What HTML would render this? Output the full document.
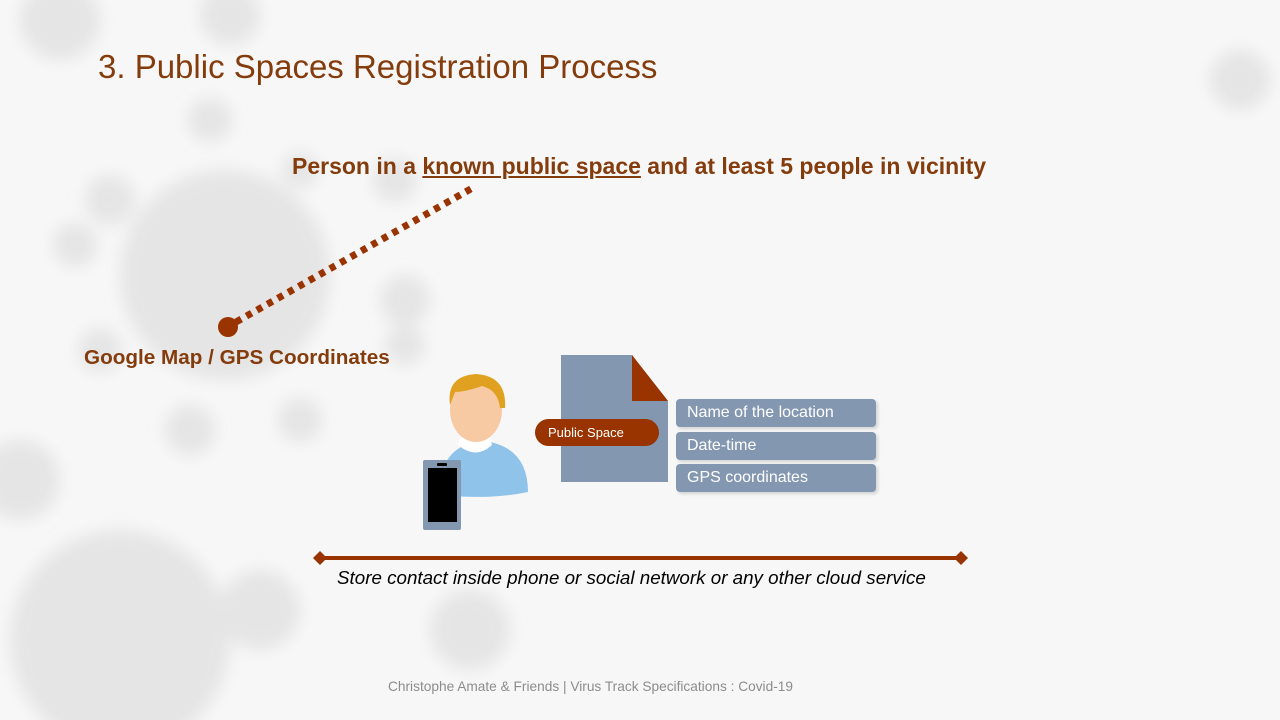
<!DOCTYPE html>
<html><head><meta charset="utf-8"><style>
body{margin:0}
#s{position:relative;width:1280px;height:720px;overflow:hidden;background:#f7f7f7;font-family:"Liberation Sans",sans-serif}
.t{position:absolute;white-space:nowrap}
.box{position:absolute;left:676px;width:200px;height:28px;background:#8497b0;border-radius:4px;color:#fff;font-size:16px;line-height:28px;padding-left:11px;box-sizing:border-box;box-shadow:2px 2px 3px rgba(0,0,0,.15)}
</style></head><body>
<div id="s">
<svg width="1280" height="720" style="position:absolute;left:0;top:0">
<defs><filter id="b"><feGaussianBlur stdDeviation="8"/></filter></defs>
<g fill="#e2e2e2" filter="url(#b)" opacity=".85">
<circle cx="225" cy="275" r="105"/>
<circle cx="210" cy="120" r="22"/><circle cx="110" cy="200" r="25"/><circle cx="75" cy="245" r="22"/>
<circle cx="395" cy="180" r="22"/><circle cx="405" cy="300" r="25"/><circle cx="405" cy="345" r="20"/>
<circle cx="190" cy="430" r="25"/><circle cx="300" cy="420" r="22"/><circle cx="100" cy="350" r="22"/>
<circle cx="300" cy="170" r="18"/>
<circle cx="120" cy="640" r="110"/><circle cx="260" cy="610" r="40"/><circle cx="20" cy="480" r="40"/>
<circle cx="60" cy="20" r="40"/><circle cx="230" cy="15" r="30"/>
<circle cx="470" cy="630" r="40"/><circle cx="1240" cy="80" r="30"/>
</g>
</svg>
<div class="t" style="left:98px;top:48px;font-size:33px;color:#843c0c">3. Public Spaces Registration Process</div>
<div class="t" style="left:292px;top:153px;font-size:23px;font-weight:bold;color:#843c0c">Person in a <u>known public space</u> and at least 5 people in vicinity</div>
<svg width="1280" height="720" style="position:absolute;left:0;top:0">
<line x1="236" y1="322" x2="476" y2="186" stroke="#993300" stroke-width="7" stroke-dasharray="6 6"/>
<circle cx="228" cy="327" r="10" fill="#993300"/>
<line x1="322" y1="558" x2="960" y2="558" stroke="#993300" stroke-width="4"/>
<path d="M313 558l7-7 7 7-7 7z M954 558l7-7 7 7-7 7z" fill="#993300"/>
<g>
<path d="M440 495 Q438 450 475 442 L490 442 Q528 450 528 492 Q490 500 440 495z" fill="#8fc3ea"/>
<path d="M458 445 Q476 460 492 445 L490 438 L460 438z" fill="#fff"/>
<ellipse cx="476" cy="410" rx="26" ry="32" fill="#f8caa4"/>
<path d="M450 405 Q446 376 476 374 Q507 376 505 408 L500 408 Q498 390 482 386 Q465 392 455 392 Z" fill="#e0a020"/>
</g>
<g>
<rect x="423" y="460" width="38" height="70" rx="2" fill="#8497b0"/>
<rect x="428" y="468" width="29" height="54" fill="#000"/>
<rect x="437" y="463" width="10" height="3" rx="1" fill="#000"/>
</g>
<g>
<path d="M561 355 H632 L668 401 V482 H561z" fill="#8497b0"/>
<path d="M632 355 L668 401 H632z" fill="#993300"/>
</g>
</svg>
<div class="t" style="left:84px;top:346px;font-size:20.7px;font-weight:bold;color:#843c0c">Google Map / GPS Coordinates</div>
<div class="t" style="left:535px;top:419px;width:124px;height:27px;border-radius:14px;background:#993300;color:#fff;font-size:13px;line-height:27px;padding-left:13px;box-sizing:border-box">Public Space</div>
<div class="box" style="top:399px">Name of the location</div>
<div class="box" style="top:432px">Date-time</div>
<div class="box" style="top:464px">GPS coordinates</div>
<div class="t" style="left:337px;top:567px;font-size:18.8px;font-style:italic;color:#000">Store contact inside phone or social network or any other cloud service</div>
<div class="t" style="left:388px;top:679px;font-size:13.7px;color:#8c8c8c">Christophe Amate &amp; Friends | Virus Track Specifications : Covid-19</div>
</div>
</body></html>
